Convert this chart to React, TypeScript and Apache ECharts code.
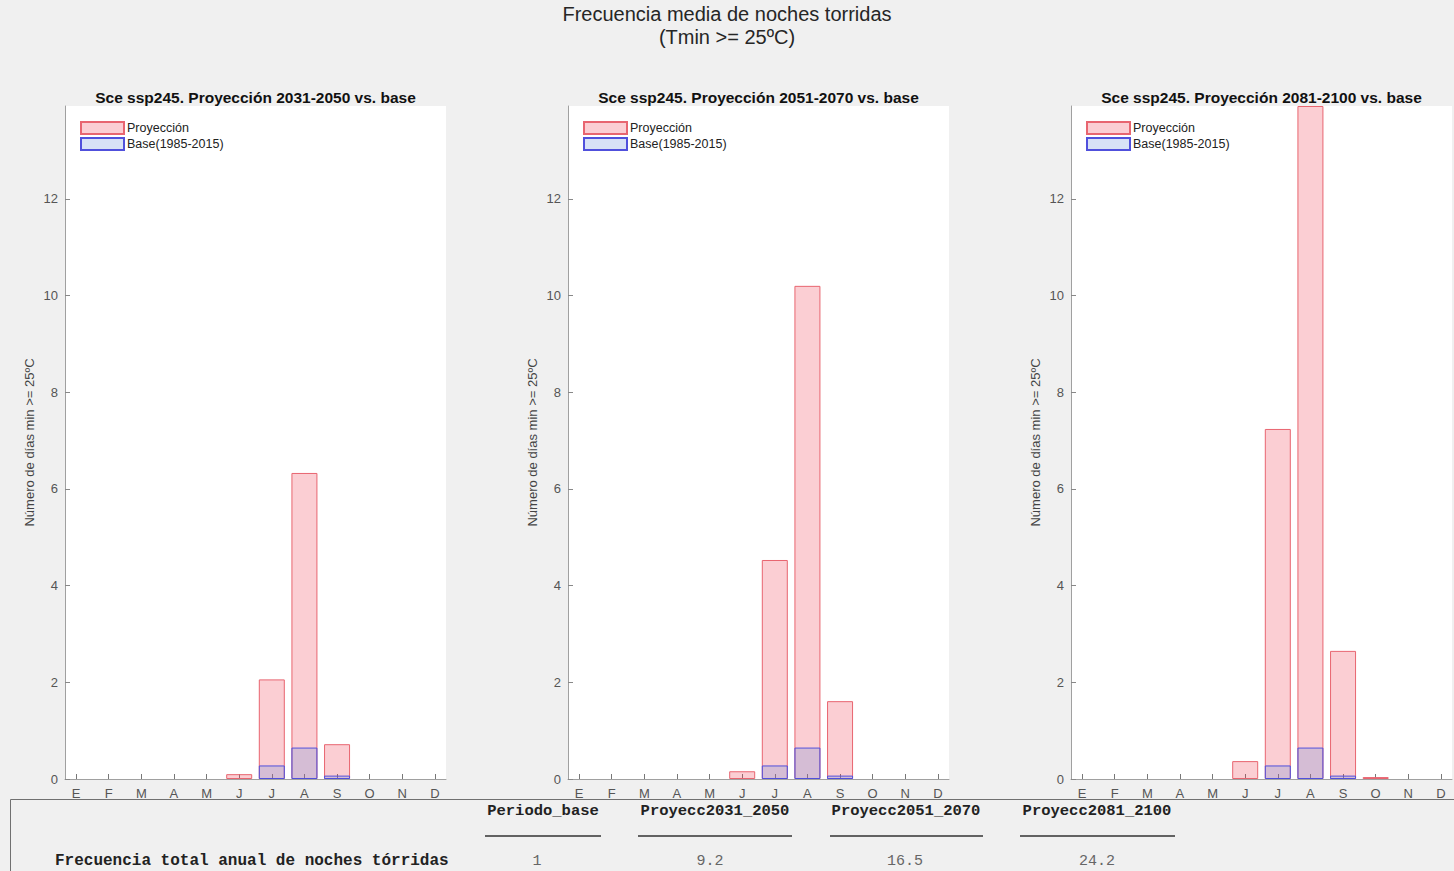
import React, { useEffect, useRef } from "react";
import * as echarts from "echarts";

const months = ["E", "F", "M", "A", "M", "J", "J", "A", "S", "O", "N", "D"];
const monthIndex = [1, 2, 3, 4, 5, 6, 7, 8, 9, 10, 11, 12];
const yTicks = [0, 2, 4, 6, 8, 10, 12];

const base = [0, 0, 0, 0, 0, 0, 0.28, 0.65, 0.07, 0, 0, 0];
const proj2031 = [0, 0, 0, 0, 0, 0.1, 2.06, 6.33, 0.72, 0, 0, 0];
const proj2051 = [0, 0, 0, 0, 0, 0.16, 4.53, 10.2, 1.61, 0, 0, 0];
const proj2081 = [0, 0, 0, 0, 0, 0.37, 7.24, 13.92, 2.65, 0.04, 0, 0];

const panelTitles = [
  "Sce ssp245. Proyección 2031-2050 vs. base",
  "Sce ssp245. Proyección 2051-2070 vs. base",
  "Sce ssp245. Proyección 2081-2100 vs. base",
];
const projections = [proj2031, proj2051, proj2081];

const tableHeaders = ["Periodo_base", "Proyecc2031_2050", "Proyecc2051_2070", "Proyecc2081_2100"];
const tableValues = ["1", "9.2", "16.5", "24.2"];
const rowLabel = "Frecuencia total anual de noches tórridas";

const YMAX = 13.92;
const NAME_P = "Proyección";
const NAME_B = "Base(1985-2015)";

export default function App() {
  const ref = useRef<HTMLDivElement>(null);

  useEffect(() => {
    if (!ref.current) return;
    const chart = echarts.init(ref.current, null, { renderer: "svg" });

    const gridLefts = [65, 568, 1071];
    const gridW = 381;
    const sans = "'Liberation Sans', Arial, sans-serif";
    const mono = "'Liberation Mono', 'DejaVu Sans Mono', monospace";

    const grids = gridLefts.map((l) => ({
      left: l,
      width: gridW,
      top: 106,
      bottom: 92,
      show: true,
      backgroundColor: "#ffffff",
      borderWidth: 0,
    }));

    const xAxes = gridLefts.map((_, i) => ({
      type: "value",
      gridIndex: i,
      min: 0.66,
      max: 12.34,
      splitLine: { show: false },
      axisLine: { show: true, lineStyle: { color: "#a0a0a0", width: 1 } },
      axisTick: { show: true, inside: true, length: 5, customValues: monthIndex, lineStyle: { color: "#777" } },
      axisLabel: {
        customValues: monthIndex,
        formatter: (v: number) => months[Math.round(v) - 1] || "",
        fontSize: 13,
        color: "#555",
        fontFamily: sans,
        margin: 8,
      },
    }));

    const yAxes = gridLefts.map((_, i) => ({
      type: "value",
      gridIndex: i,
      min: 0,
      max: YMAX,
      name: "Número de días min >= 25ºC",
      nameLocation: "middle",
      nameRotate: 90,
      nameGap: 29,
      nameTextStyle: { fontSize: 13, color: "#444", fontFamily: sans },
      splitLine: { show: false },
      axisLine: { show: true, lineStyle: { color: "#a0a0a0", width: 1 } },
      axisTick: { show: true, inside: true, length: 5, customValues: yTicks, lineStyle: { color: "#888" } },
      axisLabel: { customValues: yTicks, fontSize: 13, color: "#555", fontFamily: sans, margin: 7 },
    }));

    const series: any[] = [];
    projections.forEach((p, i) => {
      series.push({
        type: "bar",
        name: NAME_P,
        xAxisIndex: i,
        yAxisIndex: i,
        barWidth: 26,
        barGap: "-100%",
        data: p.map((v, k) => [monthIndex[k], v === 0 ? null : v]),
        itemStyle: { color: "rgba(240,60,80,0.25)", borderColor: "#e86570", borderWidth: 1 },
        z: 2,
      });
      series.push({
        type: "bar",
        name: NAME_B,
        xAxisIndex: i,
        yAxisIndex: i,
        barWidth: 26,
        barGap: "-100%",
        data: base.map((v, k) => [monthIndex[k], v === 0 ? null : v]),
        itemStyle: { color: "rgba(100,140,220,0.25)", borderColor: "#5050dc", borderWidth: 1 },
        z: 3,
      });
    });

    const legends = gridLefts.map((l) => ({
      left: l + 15,
      top: 121,
      orient: "vertical",
      itemWidth: 43,
      itemHeight: 12,
      itemGap: 2,
      padding: 0,
      icon: "rect",
      selectedMode: false,
      data: [NAME_P, NAME_B],
      textStyle: { fontSize: 12.5, color: "#222", fontFamily: sans, padding: [0, 0, 0, -2] },
    }));

    const graphics: any[] = [
      {
        type: "text",
        x: 727,
        y: 14,
        style: { text: "Frecuencia media de noches torridas", fontSize: 20, fill: "#262626", fontFamily: sans, textAlign: "center", textVerticalAlign: "middle" },
      },
      {
        type: "text",
        x: 727,
        y: 37,
        style: { text: "(Tmin >= 25ºC)", fontSize: 20, fill: "#262626", fontFamily: sans, textAlign: "center", textVerticalAlign: "middle" },
      },
    ];
    gridLefts.forEach((l, i) => {
      graphics.push({
        type: "text",
        x: l + gridW / 2,
        y: 97,
        style: { text: panelTitles[i], fontSize: 15.5, fontWeight: "bold", fill: "#111", fontFamily: sans, textAlign: "center", textVerticalAlign: "middle" },
      });
    });

    // table area
    graphics.push({
      type: "rect",
      shape: { x: 10.5, y: 799.5, width: 1450, height: 80 },
      style: { fill: "#f0f0f0", stroke: "#707070", lineWidth: 1 },
      z: 50,
    });
    const headerCenters = [543, 715, 906, 1097];
    const lineSpans = [
      [485, 601],
      [638, 792],
      [830, 983],
      [1020, 1175],
    ];
    const valueCenters = [537, 710, 905, 1097];
    tableHeaders.forEach((h, i) => {
      graphics.push({
        type: "text",
        x: headerCenters[i],
        y: 811,
        z: 51,
        style: { text: h, fontSize: 15.5, fontWeight: "bold", fill: "#222", fontFamily: mono, textAlign: "center", textVerticalAlign: "middle" },
      });
      graphics.push({
        type: "line",
        z: 51,
        shape: { x1: lineSpans[i][0], y1: 836, x2: lineSpans[i][1], y2: 836 },
        style: { stroke: "#333", lineWidth: 1.5 },
      });
      graphics.push({
        type: "text",
        x: valueCenters[i],
        y: 861,
        z: 51,
        style: { text: tableValues[i], fontSize: 15, fill: "#666", fontFamily: mono, textAlign: "center", textVerticalAlign: "middle" },
      });
    });
    graphics.push({
      type: "text",
      x: 55,
      y: 861,
      z: 51,
      style: { text: rowLabel, fontSize: 16, fontWeight: "bold", fill: "#222", fontFamily: mono, textAlign: "left", textVerticalAlign: "middle" },
    });

    chart.setOption({
      animation: false,
      backgroundColor: "#f0f0f0",
      grid: grids,
      xAxis: xAxes,
      yAxis: yAxes,
      legend: legends,
      series,
      graphic: graphics,
    });

    return () => chart.dispose();
  }, []);

  return (
    <div
      ref={ref}
      style={{ position: "fixed", left: 0, top: 0, width: 1454, height: 871 }}
    />
  );
}
